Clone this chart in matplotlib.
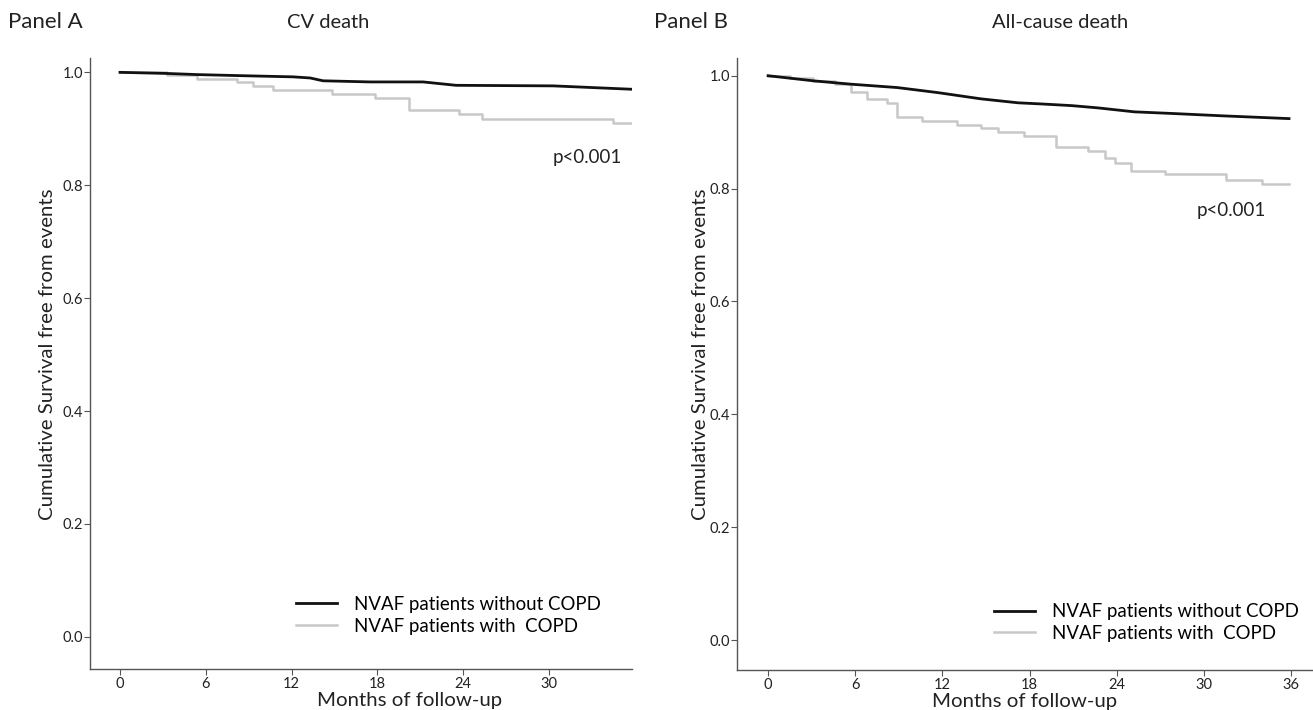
import matplotlib
matplotlib.use("Agg")
import matplotlib.pyplot as plt
from matplotlib import font_manager

# ---------------- data ----------------
# Panel A: CV death
a_without_t = [0.0, 3.3, 5.4, 8.6, 12.1, 13.3, 14.2, 17.5, 21.2, 23.5, 30.3, 35.8]
a_without_s = [1.000, 0.998, 0.996, 0.994, 0.992, 0.990, 0.985, 0.983, 0.983, 0.977, 0.976, 0.970]
a_with_t = [0.0, 3.3, 5.4, 8.2, 9.3, 10.7, 14.8, 17.8, 20.2, 23.7, 25.3, 34.5, 35.8]
a_with_s = [1.000, 0.995, 0.989, 0.982, 0.976, 0.969, 0.962, 0.955, 0.934, 0.927, 0.918, 0.910, 0.910]

# Panel B: all-cause death
b_without_t = [0.0, 3.1, 5.7, 8.9, 11.7, 14.65, 17.2, 18.8, 20.9, 22.7, 25.2, 27.9, 31.2, 35.85]
b_without_s = [1.000, 0.991, 0.985, 0.979, 0.970, 0.959, 0.952, 0.950, 0.947, 0.943, 0.936, 0.933, 0.929, 0.924]
b_with_t = [0.0, 1.5, 3.1, 4.6, 5.7, 6.8, 8.2, 8.9, 10.6, 13.0, 14.65, 15.8, 17.6, 19.8, 22.0, 23.2,
            23.9, 25.0, 27.3, 31.5, 34.0, 35.85]
b_with_s = [1.000, 0.996, 0.991, 0.986, 0.972, 0.959, 0.951, 0.926, 0.920, 0.913, 0.907, 0.900, 0.894, 0.873,
            0.867, 0.854, 0.846, 0.831, 0.825, 0.816, 0.809, 0.809]

yticks = [0.0, 0.2, 0.4, 0.6, 0.8, 1.0]
a_xticks = [0, 6, 12, 18, 24, 30]
b_xticks = [0, 6, 12, 18, 24, 30, 36]
legend_labels = ["NVAF patients without COPD", "NVAF patients with  COPD"]
p_text = "p<0.001"

# ---------------- fonts ----------------
avail = {f.name for f in font_manager.fontManager.ttflist}
main_font = "Lato" if "Lato" in avail else "DejaVu Sans"
narrow_font = "Liberation Sans Narrow" if "Liberation Sans Narrow" in avail else main_font

BLACK = "#111111"
GRAY = "#c8c8c8"
SPINE = "#555555"
TXT = "#222222"

fig = plt.figure(figsize=(13.13, 7.10), dpi=100)

def setup(ax, xlim, ylim, xticks, ylab_xy, xlab_xy):
    ax.set_xlim(*xlim)
    ax.set_ylim(*ylim)
    ax.spines["top"].set_visible(False)
    ax.spines["right"].set_visible(False)
    for s in ("left", "bottom"):
        ax.spines[s].set_color(SPINE)
        ax.spines[s].set_linewidth(1.0)
    ax.set_yticks(yticks)
    ax.set_yticklabels([f"{v:.1f}" for v in yticks], fontname=narrow_font, fontsize=10.5, color=TXT)
    ax.set_xticks(xticks)
    ax.set_xticklabels([str(v) for v in xticks], fontname=narrow_font, fontsize=10.5, color=TXT)
    ax.tick_params(axis="y", length=4, width=0.8, color=SPINE, pad=1)
    ax.tick_params(axis="x", length=4, width=0.8, color=SPINE, pad=2)
    ax.set_ylabel("Cumulative Survival free from events", fontname=main_font, fontsize=14.7, color=TXT)
    ax.set_xlabel("Months of follow-up", fontname=main_font, fontsize=14.7, color=TXT)
    ax.yaxis.set_label_coords(*ylab_xy)
    ax.xaxis.set_label_coords(*xlab_xy)

# Panel A
axA = fig.add_axes([0.0685, 0.0578, 0.4128, 0.8602])
setup(axA, (-2.1, 35.8), (-0.057, 1.025), a_xticks, (-0.063, 0.516), (0.59, -0.038))
axA.plot(a_with_t, a_with_s, drawstyle="steps-post", color=GRAY, lw=1.8, label=legend_labels[1])
axA.plot(a_without_t, a_without_s, color=BLACK, lw=2.0, label=legend_labels[0])
axA.text(0.981, 0.838, p_text, transform=axA.transAxes, ha="right", va="center",
         fontname=main_font, fontsize=13.5, color=TXT)
hA, lA = axA.get_legend_handles_labels()
axA.legend([hA[1], hA[0]], [lA[1], lA[0]], loc="lower left", bbox_to_anchor=(0.357, 0.035),
           frameon=False, prop={"family": main_font, "size": 13.4}, handlelength=2.2,
           handletextpad=0.9, labelspacing=0.25, borderaxespad=0.3)

# Panel B
axB = fig.add_axes([0.5613, 0.0563, 0.4387, 0.8617])
setup(axB, (-2.14, 37.5), (-0.053, 1.031), b_xticks, (-0.049, 0.516), (0.5, -0.038))
axB.plot(b_with_t, b_with_s, drawstyle="steps-post", color=GRAY, lw=1.8, label=legend_labels[1])
axB.plot(b_without_t, b_without_s, color=BLACK, lw=2.0, label=legend_labels[0])
axB.text(0.918, 0.751, p_text, transform=axB.transAxes, ha="right", va="center",
         fontname=main_font, fontsize=13.5, color=TXT)
hB, lB = axB.get_legend_handles_labels()
axB.legend([hB[1], hB[0]], [lB[1], lB[0]], loc="lower left", bbox_to_anchor=(0.424, 0.025),
           frameon=False, prop={"family": main_font, "size": 13.4}, handlelength=2.2,
           handletextpad=0.9, labelspacing=0.25, borderaxespad=0.3)

# titles
fig.text(8 / 1313, 1 - 22 / 710, "Panel A", fontname=main_font, fontsize=16, ha="left", va="center", color=TXT)
fig.text(328 / 1313, 1 - 22 / 710, "CV death", fontname=main_font, fontsize=14.5, ha="center", va="center", color=TXT)
fig.text(654 / 1313, 1 - 22 / 710, "Panel B", fontname=main_font, fontsize=16, ha="left", va="center", color=TXT)
fig.text(1060 / 1313, 1 - 22 / 710, "All-cause death", fontname=main_font, fontsize=14.5, ha="center", va="center", color=TXT)

fig.savefig("out.png", dpi=100)
